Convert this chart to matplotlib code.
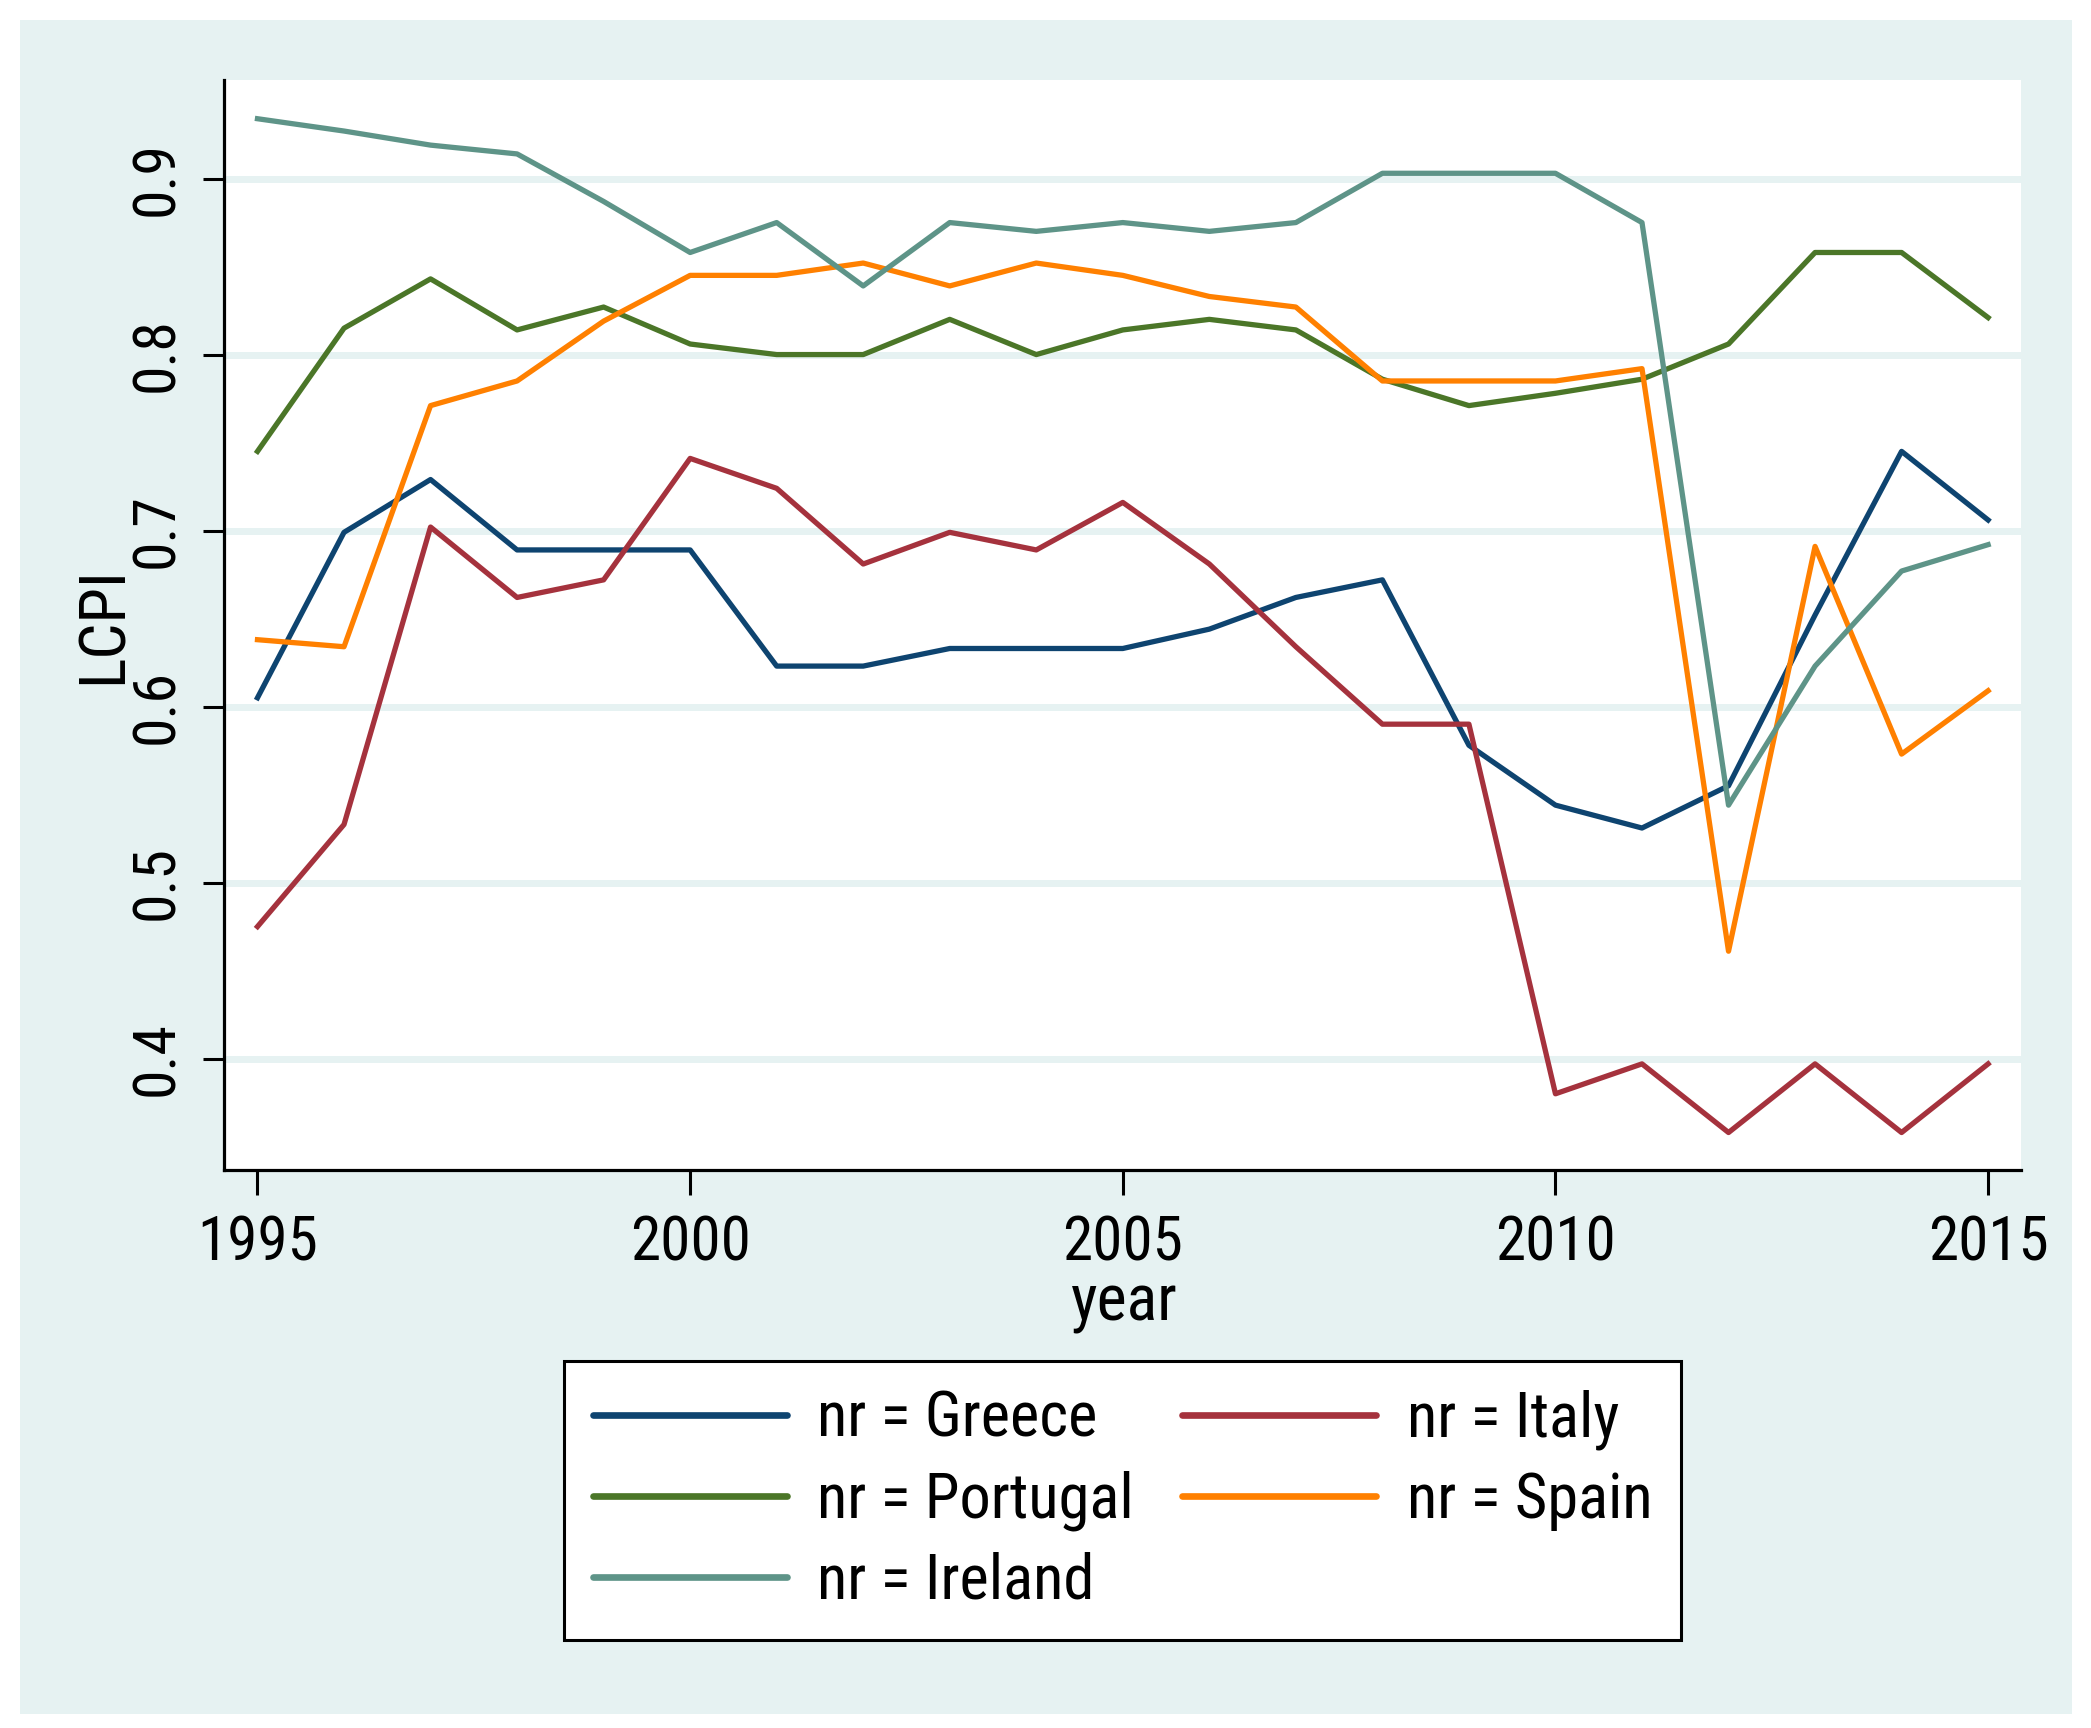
import matplotlib
matplotlib.use("Agg")
import matplotlib.pyplot as plt
from matplotlib.patches import Rectangle
from matplotlib import font_manager
from matplotlib.font_manager import FontProperties

years = list(range(1995, 2016))
greece = [0.605, 0.699, 0.729, 0.689, 0.689, 0.689, 0.623, 0.623, 0.633, 0.633, 0.633,
          0.644, 0.662, 0.672, 0.578, 0.544, 0.531, 0.555, 0.652, 0.745, 0.706]
italy = [0.475, 0.533, 0.702, 0.662, 0.672, 0.741, 0.724, 0.681, 0.699, 0.689, 0.716,
         0.681, 0.634, 0.590, 0.590, 0.380, 0.397, 0.358, 0.397, 0.358, 0.397]
portugal = [0.745, 0.815, 0.843, 0.814, 0.827, 0.806, 0.800, 0.800, 0.820, 0.800, 0.814,
            0.820, 0.814, 0.786, 0.771, 0.778, 0.786, 0.806, 0.858, 0.858, 0.821]
spain = [0.638, 0.634, 0.771, 0.785, 0.819, 0.845, 0.845, 0.852, 0.839, 0.852, 0.845,
         0.833, 0.827, 0.785, 0.785, 0.785, 0.792, 0.461, 0.691, 0.573, 0.609]
ireland = [0.934, 0.927, 0.919, 0.914, 0.887, 0.858, 0.875, 0.839, 0.875, 0.870, 0.875,
           0.870, 0.875, 0.903, 0.903, 0.903, 0.875, 0.544, 0.623, 0.677, 0.692]

series_names = ["nr = Greece", "nr = Italy", "nr = Portugal", "nr = Spain", "nr = Ireland"]
x_ticks = [1995, 2000, 2005, 2010, 2015]
y_ticks = [0.4, 0.5, 0.6, 0.7, 0.8, 0.9]
y_ticklabels = ["0.4", "0.5", "0.6", "0.7", "0.8", "0.9"]

colors = ["#0E4470", "#A5323D", "#4B7628", "#FF8000", "#5E9488"]
bg = "#E6F2F2"

# look for a condensed sans face (Stata-like narrow Helvetica); fall back to Liberation Sans
cond_file = None
prefs = ["LiberationSansNarrow-Regular", "RobotoCondensed-Regular", "OpenSans_Condensed-Regular",
         "OpenSansCondensed", "NotoSans-Condensed.", "NotoSansCondensed-Regular", "DejaVuSansCondensed."]
files = [f.fname for f in font_manager.fontManager.ttflist]
for p in prefs:
    hits = [fn for fn in files if p.lower() in fn.lower()]
    if hits:
        cond_file = hits[0]
        break

def fp(size):
    if cond_file:
        return FontProperties(fname=cond_file, size=size)
    return FontProperties(family=["Liberation Sans", "DejaVu Sans"], size=size)

plt.rcParams["font.family"] = ["Liberation Sans", "DejaVu Sans"]
shrink = 1.0 if cond_file else 0.92

W, H = 2091, 1728
fig = plt.figure(figsize=(W / 100, H / 100), dpi=100, facecolor="white")
fig.patches.append(Rectangle((20 / W, 1 - 1714 / H), (2072 - 20) / W, (1714 - 20) / H,
                             transform=fig.transFigure, facecolor=bg, edgecolor="none", zorder=-10))

ax = fig.add_axes([224 / W, 1 - 1170 / H, (2021 - 224) / W, (1170 - 80) / H])
ax.set_facecolor("white")
ax.set_zorder(1)

for yv in y_ticks:
    ax.axhline(yv, color=bg, lw=5, zorder=1)

data = [greece, italy, portugal, spain, ireland]
lines = []
for vals, c, name in zip(data, colors, series_names):
    ln, = ax.plot(years, vals, color=c, lw=3.8, label=name, zorder=3, solid_joinstyle="round")
    lines.append(ln)

ax.set_xlim(1994.613, 2015.38)
ax.set_ylim(0.3367, 0.956)
ax.set_xticks(x_ticks)
ax.set_xticklabels([str(v) for v in x_ticks], fontproperties=fp(44 * shrink))
ax.set_yticks(y_ticks)
ax.set_yticklabels(y_ticklabels, rotation=90, va="center", fontproperties=fp(43 * shrink))
ax.tick_params(axis="x", length=18, width=2.2, pad=14, direction="out")
ax.tick_params(axis="y", length=15, width=2.2, pad=13, direction="out")
for s in ["top", "right"]:
    ax.spines[s].set_visible(False)
for s in ["left", "bottom"]:
    ax.spines[s].set_linewidth(2.3)

ax.set_xlabel("year", fontproperties=fp(46 * shrink))
ax.set_ylabel("LCPI", fontproperties=fp(46 * shrink))
ax.xaxis.set_label_coords((1124 - 224) / (2021 - 224), -(1272 - 1170) / (1170 - 80))
ax.yaxis.set_label_coords(-(224 - 135) / (2021 - 224), 0.5)

order = [0, 2, 4, 1, 3]  # column-major fill so rows read Greece/Italy, Portugal/Spain, Ireland
leg = ax.legend([lines[i] for i in order], [series_names[i] for i in order],
                loc="upper left",
                bbox_to_anchor=(564 / W, 1 - 1361 / H - 0.01, (1681 - 564) / W, 0.01),
                bbox_transform=fig.transFigure, mode="expand", ncol=2, prop=fp(45 * shrink),
                frameon=True, fancybox=False, edgecolor="black", facecolor="white", framealpha=1,
                borderpad=0.46, handlelength=3.1, handletextpad=0.49, labelspacing=0.33,
                borderaxespad=0, columnspacing=1.2)
leg.get_frame().set_linewidth(2.2)
for h in leg.get_lines():
    h.set_linewidth(4.8)
    h.set_solid_capstyle("round")

fig.savefig("out.png", dpi=100, facecolor="white")
